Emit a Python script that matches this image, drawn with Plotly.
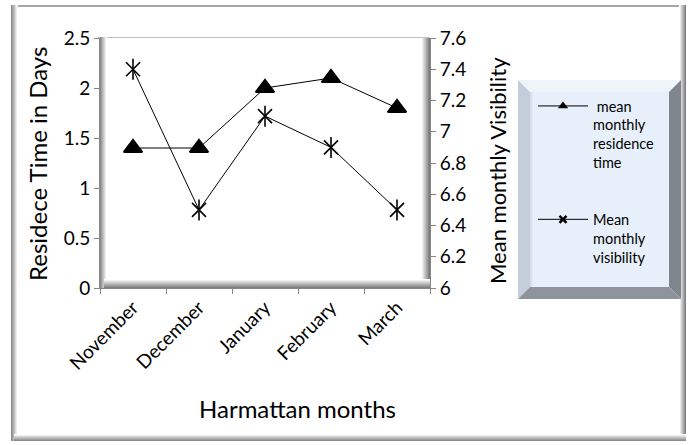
import plotly.graph_objects as go

# ---- data -------------------------------------------------------------
months = ["November", "December", "January", "February", "March"]
residence_days = [1.4, 1.4, 2.0, 2.1, 1.8]
visibility = [7.4, 6.5, 7.1, 6.9, 6.5]

left_ticks = [0, 0.5, 1, 1.5, 2, 2.5]
right_ticks = [6, 6.2, 6.4, 6.6, 6.8, 7, 7.2, 7.4, 7.6]

FONT = "Lato"
W, H = 691, 445
L, R, T, B = 100, 261, 38, 157           # plot area margins (px)
PW, PH = W - L - R, H - T - B


def px(x):
    return (x - L) / PW


def py(y):
    return (H - B - y) / PH


def hexmix(c1, c2, t):
    a = [int(c1[i:i + 2], 16) for i in (1, 3, 5)]
    b = [int(c2[i:i + 2], 16) for i in (1, 3, 5)]
    return "#" + "".join(f"{round(a[k] + (b[k] - a[k]) * t):02x}" for k in range(3))


shapes = []


def rect(x0, y0, x1, y1, fill, layer="below"):
    shapes.append(dict(type="rect", xref="paper", yref="paper",
                       x0=px(x0), x1=px(x1), y0=py(y0), y1=py(y1),
                       fillcolor=fill, line=dict(width=0), layer=layer))


def poly(pts, fill, layer="below"):
    d = "M" + " L".join(f"{px(x)},{py(y)}" for x, y in pts) + " Z"
    shapes.append(dict(type="path", xref="paper", yref="paper", path=d,
                       fillcolor=fill, line=dict(width=0), layer=layer))


def vgrad(x0, x1, y0, y1, c0, c1, layer="below"):
    n = int(round(x1 - x0))
    for i in range(n):
        rect(x0 + i, y0, x0 + i + 1, y1, hexmix(c0, c1, i / max(n - 1, 1)), layer)


def hgrad(y0, y1, x0, x1, c0, c1, layer="below"):
    n = int(round(y1 - y0))
    for i in range(n):
        rect(x0, y0 + i, x1, y0 + i + 1, hexmix(c0, c1, i / max(n - 1, 1)), layer)


# outer chart frame with a soft bevel
rect(11, 5, 686, 441, "#ffffff")
rect(11, 5, 686, 7, "#a6a6a6")
vgrad(11, 18, 5, 441, "#8c8c8c", "#ffffff")
vgrad(679, 686, 5, 441, "#ffffff", "#808080")
hgrad(434, 441, 14, 686, "#ffffff", "#8a8a8a")

# plot area bevel
rect(98, 37, 430, 38, "#c0c0c0")
vgrad(100, 107, 37, 288, "#8c8c8c", "#ffffff")
vgrad(421, 430, 38, 288, "#ffffff", "#7a7a7a")
hgrad(279, 288, 104, 430, "#ffffff", "#808080")

# legend box with bevelled edges
lx0, ly0, lx1, ly1, bw = 518, 80, 681, 299, 12
poly([(lx0, ly0), (lx1, ly0), (lx1 - bw, ly0 + bw), (lx0 + bw, ly0 + bw)], "#eef4fa")
poly([(lx0, ly0), (lx0 + bw, ly0 + bw), (lx0 + bw, ly1 - bw), (lx0, ly1)], "#c3ceda")
poly([(lx1, ly0), (lx1, ly1), (lx1 - bw, ly1 - bw), (lx1 - bw, ly0 + bw)], "#80868e")
poly([(lx0, ly1), (lx0 + bw, ly1 - bw), (lx1 - bw, ly1 - bw), (lx1, ly1)], "#8e949c")
rect(lx0 + bw, ly0 + bw, lx1 - bw, ly1 - bw, "#e7f0fa")
vgrad(lx0 + bw, lx0 + bw + 4, ly0 + bw, ly1 - bw, "#d3dde8", "#e7f0fa")

fig = go.Figure()

# residence time (left axis)
fig.add_trace(go.Scatter(
    x=months, y=residence_days, mode="lines+markers", showlegend=False,
    line=dict(color="black", width=1),
    marker=dict(symbol="triangle-up", size=16, color="black",
                line=dict(color="black", width=2)),
))
# visibility (right axis): Excel-style star = X plus a vertical stroke
fig.add_trace(go.Scatter(
    x=months, y=visibility, yaxis="y2", mode="lines+markers", showlegend=False,
    line=dict(color="black", width=1),
    marker=dict(symbol="x-thin-open", size=14, color="black",
                line=dict(color="black", width=1.6)),
))
fig.add_trace(go.Scatter(
    x=months, y=visibility, yaxis="y2", mode="markers", showlegend=False,
    marker=dict(symbol="line-ns-open", size=15, color="black",
                line=dict(color="black", width=1.6)),
))

# legend entries
fig.add_trace(go.Scatter(
    x=[None], y=[None], mode="lines+markers", legendgroup="a",
    name=" mean<br>monthly<br>residence<br>time",
    line=dict(color="black", width=1),
    marker=dict(symbol="triangle-up", size=9, color="black"),
))
fig.add_trace(go.Scatter(
    x=[None], y=[None], mode="lines+markers", legendgroup="b",
    name="Mean<br>monthly<br>visibility",
    line=dict(color="black", width=1),
    marker=dict(symbol="x-thin-open", size=7, color="black",
                line=dict(color="black", width=2.5)),
))

axis_line = "#868686"
tickfont = dict(family=FONT, size=19, color="black")

fig.update_layout(
    width=W, height=H,
    margin=dict(l=L, r=R, t=T, b=B),
    paper_bgcolor="white", plot_bgcolor="rgba(0,0,0,0)",
    font=dict(family=FONT, color="black"),
    shapes=shapes,
    xaxis=dict(
        type="category", range=[-0.5, 4.5], tickangle=-45,
        tickfont=tickfont, showgrid=False, zeroline=False,
        showline=True, linecolor=axis_line, linewidth=1,
        ticks="outside", ticklen=5, tickcolor=axis_line, tickson="boundaries",
    ),
    yaxis=dict(
        range=[0, 2.5], tickvals=left_ticks, ticktext=[f"{v:g}" for v in left_ticks],
        tickfont=tickfont, showgrid=False, zeroline=False,
        showline=True, linecolor=axis_line, linewidth=1,
        ticks="outside", ticklen=5, tickcolor=axis_line,
    ),
    yaxis2=dict(
        overlaying="y", side="right", range=[6, 7.6], tickvals=right_ticks,
        ticktext=[f"{v:g}" for v in right_ticks],
        tickfont=tickfont, showgrid=False, zeroline=False,
        showline=True, linecolor=axis_line, linewidth=1,
        ticks="outside", ticklen=5, tickcolor=axis_line,
    ),
    legend=dict(
        x=px(533), y=py(90), xanchor="left", yanchor="top",
        bgcolor="rgba(0,0,0,0)", borderwidth=0,
        font=dict(family=FONT, size=14.5, color="black"),
        valign="top", tracegroupgap=35, itemwidth=50,
    ),
    annotations=[
        dict(text="Residece Time in Days", xref="paper", yref="paper",
             x=px(37), y=py(164), xanchor="center", yanchor="middle",
             textangle=-90, showarrow=False, font=dict(family=FONT, size=24)),
        dict(text="Mean monthly Visibility", xref="paper", yref="paper",
             x=px(497), y=py(171), xanchor="center", yanchor="middle",
             textangle=-90, showarrow=False, font=dict(family=FONT, size=22)),
        dict(text="Harmattan months", xref="paper", yref="paper",
             x=px(297), y=py(408), xanchor="center", yanchor="middle",
             showarrow=False, font=dict(family=FONT, size=24)),
    ],
)

fig.write_html("out.html")
